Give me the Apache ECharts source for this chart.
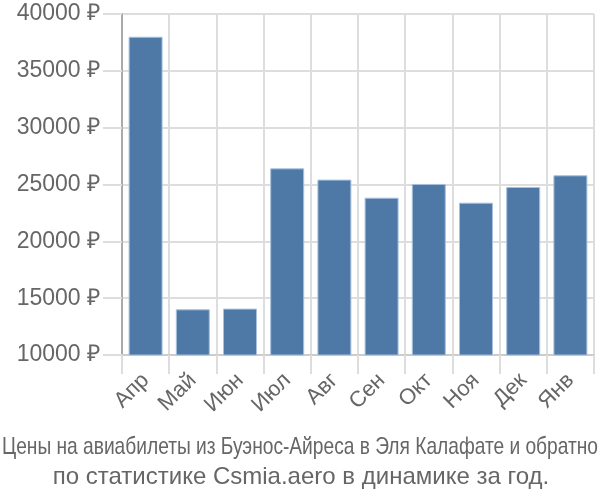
<!DOCTYPE html>
<html><head><meta charset="utf-8">
<script src="https://cdn.jsdelivr.net/npm/echarts@6/dist/echarts.min.js"></script>
<style>html,body{margin:0;padding:0;background:#fff}#c{width:600px;height:500px}</style>
</head><body><div id="c"></div>
<script>
const categories = ["Апр","Май","Июн","Июл","Авг","Сен","Окт","Ноя","Дек","Янв"];
const prices = [38000,14020,14080,26420,25430,23840,25050,23400,24780,25810];
const yTicks = {min:10000, max:40000, interval:5000};
const titleLine1 = "Цены на авиабилеты из Буэнос-Айреса в Эля Калафате и обратно";
const titleLine2 = "по статистике Csmia.aero в динамике за год.";

const FONT = 'Liberation Sans';
const cv = document.createElement('canvas').getContext('2d');
cv.font = '24px "' + FONT + '"';
const w1 = cv.measureText(titleLine1).width;
const sx1 = Math.min(1, 596 / w1);

const chart = echarts.init(document.getElementById('c'), null, {renderer:'canvas'});
chart.setOption({
  animation:false,
  graphic:[
    {type:'text', x:300, y:447, scaleX:sx1, style:{text:titleLine1, font:'24px "' + FONT + '"', fill:'#666', align:'center', verticalAlign:'middle'}},
    {type:'text', x:301, y:477, style:{text:titleLine2, font:'24px "' + FONT + '"', fill:'#666', align:'center', verticalAlign:'middle'}}
  ],
  grid:{left:122, right:6, top:14, bottom:145},
  xAxis:{
    type:'category', data:categories, boundaryGap:true,
    axisLine:{lineStyle:{color:'#ccc', width:2}},
    axisTick:{show:true, length:19, interval:0, lineStyle:{color:'#ddd', width:2}},
    splitLine:{show:true, interval:0, lineStyle:{color:'#ddd', width:2}},
    axisLabel:{interval:0, rotate:45, fontSize:22, color:'#666', fontFamily:FONT, margin:22}
  },
  yAxis:{
    type:'value', min:yTicks.min, max:yTicks.max, interval:yTicks.interval,
    axisLine:{show:true, lineStyle:{color:'#aaa', width:2}},
    axisTick:{show:true, length:19, lineStyle:{color:'#ddd', width:2}},
    splitLine:{show:true, lineStyle:{color:'#ddd', width:2}},
    axisLabel:{fontSize:23, color:'#666', fontFamily:FONT, margin:22, formatter:v=>v+' ₽'}
  },
  series:[{
    type:'bar', data:prices, barWidth:'72%',
    itemStyle:{color:'#4e79a7', borderColor:'#a9c1dd', borderWidth:1}
  }]
});
</script></body></html>
